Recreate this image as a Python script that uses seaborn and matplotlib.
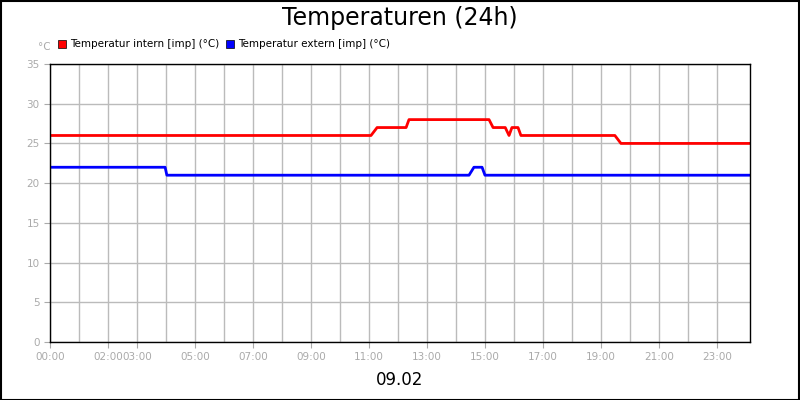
import matplotlib
matplotlib.use("Agg")
import matplotlib.pyplot as plt
import seaborn as sns
import pandas as pd
from matplotlib.patches import Rectangle

sns.set_style("white")
plt.rcParams['font.family'] = ['DejaVu Sans']

intern_h = [0, 11.07, 11.28, 12.28, 12.38, 15.14, 15.28, 15.7, 15.83, 15.93, 16.14, 16.24, 19.48, 19.69, 24.14]
intern_v = [26, 26, 27, 27, 28, 28, 27, 27, 26, 27, 27, 26, 26, 25, 25]
extern_h = [0, 3.97, 4.03, 14.45, 14.62, 14.9, 15.0, 24.14]
extern_v = [22, 22, 21, 21, 22, 22, 21, 21]
tick_hours = [0, 2, 3, 5, 7, 9, 11, 13, 15, 17, 19, 21, 23]
tick_labels = ["00:00", "02:00", "03:00", "05:00", "07:00", "09:00", "11:00", "13:00", "15:00", "17:00", "19:00", "21:00", "23:00"]

fig = plt.figure(figsize=(8, 4), dpi=100)
ax = fig.add_axes([0.0625, 0.145, 0.875, 0.695])
df1 = pd.DataFrame({"h": intern_h, "v": intern_v})
df2 = pd.DataFrame({"h": extern_h, "v": extern_v})
sns.lineplot(data=df1, x="h", y="v", ax=ax, color="#ff0000", lw=2)
sns.lineplot(data=df2, x="h", y="v", ax=ax, color="#0000ff", lw=2)
ax.set_xlim(0, 24.14)
ax.set_ylim(0, 35)
ax.set_yticks(range(0, 36, 5))
ax.set_xticks(range(0, 24), minor=True)
ax.set_xticks(tick_hours)
ax.set_xticklabels(tick_labels)
ax.grid(True, which="both", axis="x", color="#bbbbbb", lw=1)
ax.grid(True, which="major", axis="y", color="#bbbbbb", lw=1)
ax.tick_params(colors="#aaaaaa", labelsize=7.5, length=4, direction="out", left=True, bottom=True)
ax.tick_params(which="minor", length=0)
for s in ax.spines.values():
    s.set_color("black"); s.set_linewidth(1)
ax.set_xlabel(""); ax.set_ylabel("")
fig.text(0.5, 0.955, "Temperaturen (24h)", ha="center", va="center", fontsize=17, color="black")
fig.text(0.5, 0.05, "09.02", ha="center", va="center", fontsize=12, color="black")
fig.text(0.047, 0.882, "°C", ha="left", va="center", fontsize=7.5, color="#aaaaaa")
fig.patches.append(Rectangle((0.073, 0.879), 0.01, 0.02, transform=fig.transFigure, facecolor="#ff0000", edgecolor="black", lw=0.5))
fig.text(0.087, 0.889, "Temperatur intern [imp] (°C)", ha="left", va="center", fontsize=7.5, color="black")
fig.patches.append(Rectangle((0.283, 0.879), 0.01, 0.02, transform=fig.transFigure, facecolor="#0000ff", edgecolor="black", lw=0.5))
fig.text(0.297, 0.889, "Temperatur extern [imp] (°C)", ha="left", va="center", fontsize=7.5, color="black")
fig.patches.append(Rectangle((0.001, 0.001), 0.998, 0.997, transform=fig.transFigure, facecolor="none", edgecolor="black", lw=1.5))
fig.savefig("out.png", dpi=100)
